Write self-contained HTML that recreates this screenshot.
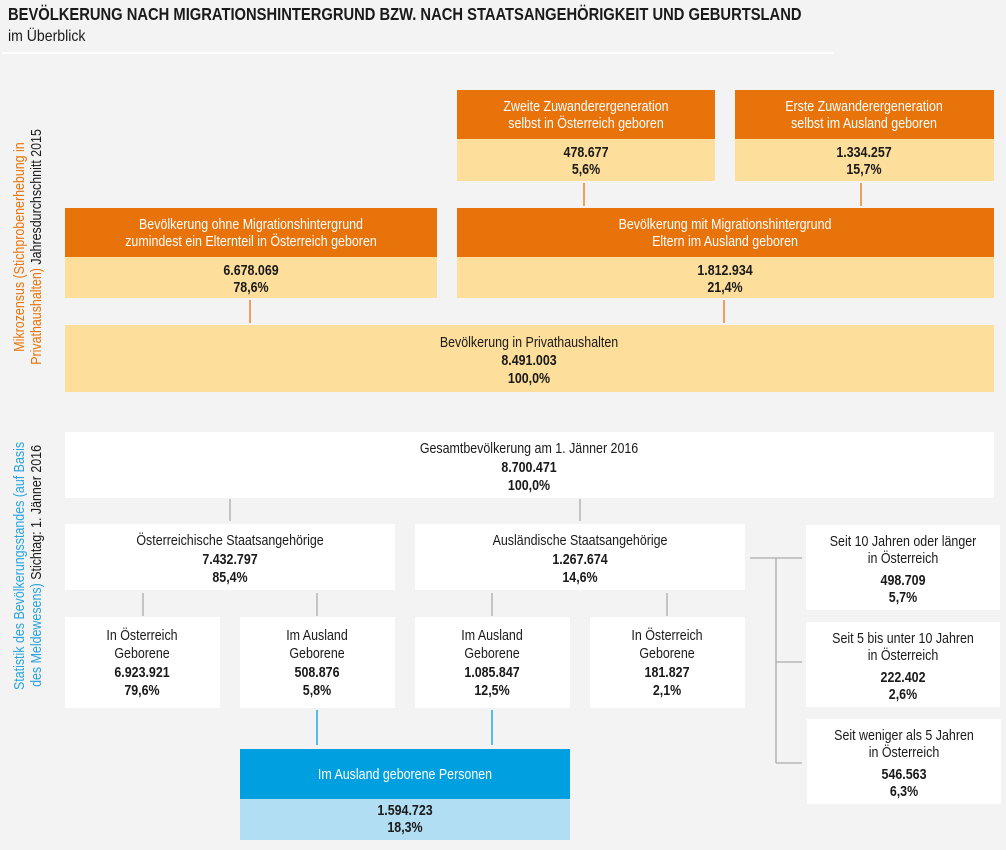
<!DOCTYPE html>
<html><head><meta charset="utf-8"><style>
html,body{margin:0;padding:0;background:#f3f3f3}
svg{display:block}
text{font-family:"Liberation Sans",sans-serif;font-size:15px;fill:#1a1a1a;transform-box:fill-box;transform-origin:center;transform:scaleX(.83)}
.b{font-weight:bold}
.w{fill:#fff}
.t{font-size:18px;font-weight:bold;transform-origin:left;transform:scaleX(.82)}
.s{font-size:16px;transform-origin:left;transform:scaleX(.88)}
</style></head><body>
<svg width="1006" height="850" viewBox="0 0 1006 850" xmlns="http://www.w3.org/2000/svg">
<rect width="1006" height="850" fill="#f3f3f3"/>
<rect x="2" y="52" width="831" height="2" fill="#fff"/>
<text x="8" y="20" class="t">BEVÖLKERUNG NACH MIGRATIONSHINTERGRUND BZW. NACH STAATSANGEHÖRIGKEIT UND GEBURTSLAND</text>
<text x="8" y="41" class="s">im Überblick</text>

<g stroke="#e8730a" stroke-width="1.3">
<line x1="584" y1="183" x2="584" y2="206"/><line x1="861" y1="183" x2="861" y2="206"/>
<line x1="250" y1="300" x2="250" y2="323"/><line x1="724" y1="300" x2="724" y2="323"/>
</g>
<g stroke="#aaa" stroke-width="1.3" fill="none">
<line x1="230" y1="499" x2="230" y2="521"/><line x1="580" y1="499" x2="580" y2="521"/>
<line x1="143" y1="593" x2="143" y2="616"/><line x1="317" y1="593" x2="317" y2="616"/>
<line x1="492" y1="593" x2="492" y2="616"/><line x1="667" y1="593" x2="667" y2="616"/>
<line x1="750" y1="558" x2="802" y2="558"/><line x1="776" y1="558" x2="776" y2="763"/>
<line x1="776" y1="662" x2="802" y2="662"/><line x1="776" y1="763" x2="802" y2="763"/>
</g>
<g stroke="#009fe0" stroke-width="1.3">
<line x1="317" y1="710" x2="317" y2="745"/><line x1="492" y1="710" x2="492" y2="745"/>
</g>

<rect x="457" y="90" width="258" height="49" fill="#e8730a"/><rect x="457" y="139" width="258" height="42" fill="#fddf9b"/>
<text x="586" y="111" text-anchor="middle" class="w">Zweite Zuwanderergeneration</text>
<text x="586" y="128" text-anchor="middle" class="w">selbst in Österreich geboren</text>
<text x="586" y="157" text-anchor="middle" class="b">478.677</text>
<text x="586" y="174" text-anchor="middle" class="b">5,6%</text>

<rect x="735" y="90" width="259" height="49" fill="#e8730a"/><rect x="735" y="139" width="259" height="42" fill="#fddf9b"/>
<text x="864" y="111" text-anchor="middle" class="w">Erste Zuwanderergeneration</text>
<text x="864" y="128" text-anchor="middle" class="w">selbst im Ausland geboren</text>
<text x="864" y="157" text-anchor="middle" class="b">1.334.257</text>
<text x="864" y="174" text-anchor="middle" class="b">15,7%</text>

<rect x="65" y="208" width="372" height="49" fill="#e8730a"/><rect x="65" y="257" width="372" height="41" fill="#fddf9b"/>
<text x="251" y="229" text-anchor="middle" class="w">Bevölkerung ohne Migrationshintergrund</text>
<text x="251" y="246" text-anchor="middle" class="w">zumindest ein Elternteil in Österreich geboren</text>
<text x="251" y="275" text-anchor="middle" class="b">6.678.069</text>
<text x="251" y="292" text-anchor="middle" class="b">78,6%</text>

<rect x="457" y="208" width="537" height="49" fill="#e8730a"/><rect x="457" y="257" width="537" height="41" fill="#fddf9b"/>
<text x="725" y="229" text-anchor="middle" class="w">Bevölkerung mit Migrationshintergrund</text>
<text x="725" y="246" text-anchor="middle" class="w">Eltern im Ausland geboren</text>
<text x="725" y="275" text-anchor="middle" class="b">1.812.934</text>
<text x="725" y="292" text-anchor="middle" class="b">21,4%</text>

<rect x="65" y="325" width="929" height="67" fill="#fddf9b"/>
<text x="529" y="347" text-anchor="middle">Bevölkerung in Privathaushalten</text>
<text x="529" y="365" text-anchor="middle" class="b">8.491.003</text>
<text x="529" y="383" text-anchor="middle" class="b">100,0%</text>

<rect x="65" y="432" width="929" height="66" fill="#fff"/>
<text x="529" y="453" text-anchor="middle">Gesamtbevölkerung am 1. Jänner 2016</text>
<text x="529" y="472" text-anchor="middle" class="b">8.700.471</text>
<text x="529" y="490" text-anchor="middle" class="b">100,0%</text>

<rect x="65" y="524" width="330" height="66" fill="#fff"/>
<text x="230" y="545" text-anchor="middle">Österreichische Staatsangehörige</text>
<text x="230" y="564" text-anchor="middle" class="b">7.432.797</text>
<text x="230" y="582" text-anchor="middle" class="b">85,4%</text>

<rect x="415" y="524" width="330" height="66" fill="#fff"/>
<text x="580" y="545" text-anchor="middle">Ausländische Staatsangehörige</text>
<text x="580" y="564" text-anchor="middle" class="b">1.267.674</text>
<text x="580" y="582" text-anchor="middle" class="b">14,6%</text>

<rect x="65" y="617" width="155" height="91" fill="#fff"/>
<text x="142" y="640" text-anchor="middle">In Österreich</text>
<text x="142" y="658" text-anchor="middle">Geborene</text>
<text x="142" y="677" text-anchor="middle" class="b">6.923.921</text>
<text x="142" y="695" text-anchor="middle" class="b">79,6%</text>

<rect x="240" y="617" width="155" height="91" fill="#fff"/>
<text x="317" y="640" text-anchor="middle">Im Ausland</text>
<text x="317" y="658" text-anchor="middle">Geborene</text>
<text x="317" y="677" text-anchor="middle" class="b">508.876</text>
<text x="317" y="695" text-anchor="middle" class="b">5,8%</text>

<rect x="415" y="617" width="155" height="91" fill="#fff"/>
<text x="492" y="640" text-anchor="middle">Im Ausland</text>
<text x="492" y="658" text-anchor="middle">Geborene</text>
<text x="492" y="677" text-anchor="middle" class="b">1.085.847</text>
<text x="492" y="695" text-anchor="middle" class="b">12,5%</text>

<rect x="590" y="617" width="155" height="91" fill="#fff"/>
<text x="667" y="640" text-anchor="middle">In Österreich</text>
<text x="667" y="658" text-anchor="middle">Geborene</text>
<text x="667" y="677" text-anchor="middle" class="b">181.827</text>
<text x="667" y="695" text-anchor="middle" class="b">2,1%</text>

<rect x="806" y="525" width="194" height="85" fill="#fff"/>
<text x="903" y="546" text-anchor="middle">Seit 10 Jahren oder länger</text>
<text x="903" y="563" text-anchor="middle">in Österreich</text>
<text x="903" y="585" text-anchor="middle" class="b">498.709</text>
<text x="903" y="602" text-anchor="middle" class="b">5,7%</text>

<rect x="806" y="622" width="194" height="85" fill="#fff"/>
<text x="903" y="643" text-anchor="middle">Seit 5 bis unter 10 Jahren</text>
<text x="903" y="660" text-anchor="middle">in Österreich</text>
<text x="903" y="682" text-anchor="middle" class="b">222.402</text>
<text x="903" y="699" text-anchor="middle" class="b">2,6%</text>

<rect x="807" y="719" width="194" height="85" fill="#fff"/>
<text x="904" y="740" text-anchor="middle">Seit weniger als 5 Jahren</text>
<text x="904" y="757" text-anchor="middle">in Österreich</text>
<text x="904" y="779" text-anchor="middle" class="b">546.563</text>
<text x="904" y="796" text-anchor="middle" class="b">6,3%</text>

<rect x="240" y="749" width="330" height="50" fill="#009fe0"/><rect x="240" y="799" width="330" height="41" fill="#b2def4"/>
<text x="405" y="779" text-anchor="middle" class="w">Im Ausland geborene Personen</text>
<text x="405" y="815" text-anchor="middle" class="b">1.594.723</text>
<text x="405" y="832" text-anchor="middle" class="b">18,3%</text>

<g transform="translate(24,247) rotate(-90)">
<text x="0" y="0" text-anchor="middle"><tspan fill="#e8730a">Mikrozensus (Stichprobenerhebung in</tspan></text>
<text x="0" y="17" text-anchor="middle"><tspan fill="#e8730a">Privathaushalten)</tspan> Jahresdurchschnitt 2015</text>
</g>
<g transform="translate(24,566) rotate(-90)">
<text x="0" y="0" text-anchor="middle"><tspan fill="#2aa3dc">Statistik des Bevölkerungsstandes (auf Basis</tspan></text>
<text x="0" y="17" text-anchor="middle"><tspan fill="#2aa3dc">des Meldewesens)</tspan> Stichtag: 1. Jänner 2016</text>
</g>
</svg>
</body></html>
